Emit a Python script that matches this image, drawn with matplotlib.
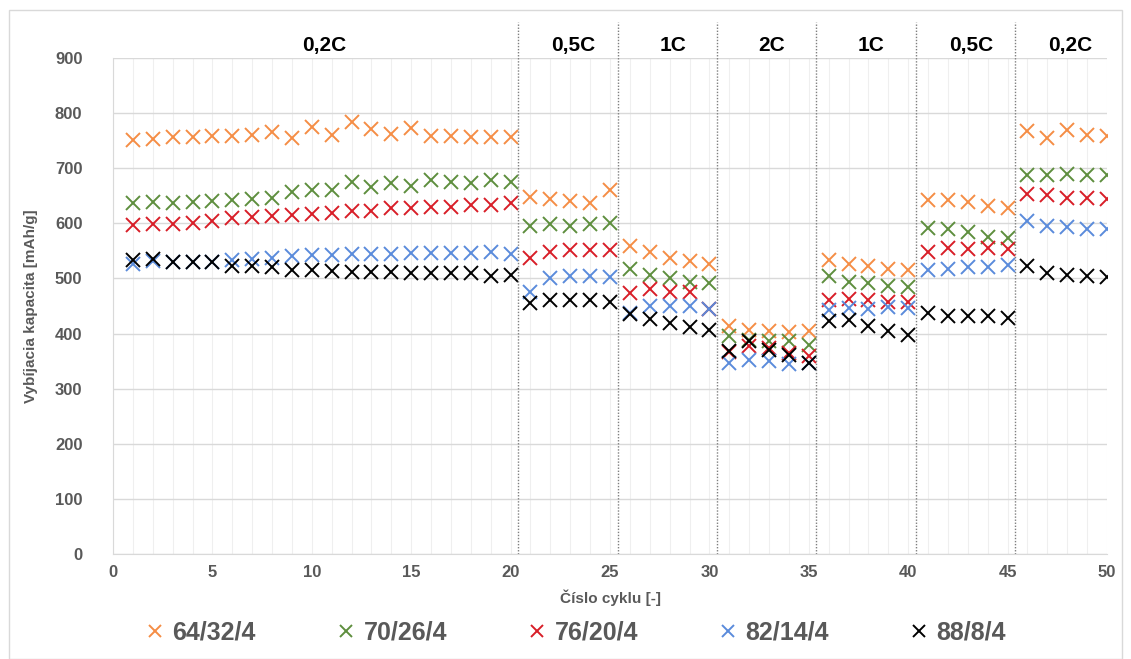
"""Discharge capacity of the five electrode compositions over the C-rate test."""

import numpy
from matplotlib import pyplot
from matplotlib.patches import Rectangle

cycles = numpy.arange(1, 51)

cap_64_32_4 = [752, 753, 757, 757, 758, 758, 760, 766, 755, 774,
               760, 783, 772, 762, 773, 759, 759, 757, 756, 757,
               647, 645, 641, 636, 660,
               558, 548, 538, 531, 527,
               413, 407, 405, 402, 404,
               533, 527, 522, 517, 516,
               643, 642, 639, 631, 628,
               768, 755, 769, 760, 759]
cap_70_26_4 = [637, 638, 636, 638, 640, 643, 645, 646, 656, 661,
               660, 675, 666, 673, 668, 678, 675, 673, 679, 675,
               595, 598, 596, 599, 600,
               518, 506, 500, 494, 491,
               396, 389, 387, 386, 380,
               504, 494, 491, 486, 484,
               592, 589, 584, 575, 574,
               687, 687, 690, 687, 687]
cap_76_20_4 = [597, 598, 599, 601, 605, 609, 612, 613, 616, 617,
               619, 622, 623, 627, 628, 630, 630, 633, 634, 636,
               537, 548, 551, 552, 551,
               473, 480, 476, 475, 444,
               366, 377, 374, 365, 360,
               461, 462, 460, 458, 458,
               548, 556, 554, 556, 554,
               654, 652, 646, 646, 645]
cap_82_14_4 = [527, 532, 529, 529, 530, 533, 535, 538, 541, 542,
               542, 544, 544, 544, 546, 546, 546, 546, 548, 545,
               476, 500, 504, 504, 503,
               437, 450, 450, 450, 444,
               346, 352, 351, 345, 346,
               443, 446, 444, 449, 447,
               516, 518, 520, 521, 524,
               604, 595, 593, 590, 590]
cap_88_8_4 = [534, 536, 530, 529, 530, 522, 522, 520, 516, 515,
              514, 512, 511, 511, 510, 509, 509, 509, 505, 506,
              455, 461, 461, 460, 457,
              436, 426, 419, 411, 407,
              368, 386, 371, 361, 346,
              422, 425, 413, 405, 398,
              437, 432, 431, 431, 428,
              522, 510, 506, 504, 503]

# C-rate steps: label and the cycles run at that rate.
rate_labels = ['0,2C', '0,5C', '1C', '2C', '1C', '0,5C', '0,2C']
rate_cycles = [(1, 20), (21, 25), (26, 30), (31, 35), (36, 40), (41, 45),
               (46, 50)]

series = {
    '64/32/4': (cap_64_32_4, '#F58D45'),
    '70/26/4': (cap_70_26_4, '#5E8E3E'),
    '76/20/4': (cap_76_20_4, '#D81E28'),
    '82/14/4': (cap_82_14_4, '#5A8BDB'),
    '88/8/4': (cap_88_8_4, '#000000'),
}

pyplot.rc('font', family=['Liberation Sans', 'DejaVu Sans'], weight='bold')
pyplot.rc('axes', labelweight='bold')
gray = '#595959'

fig = pyplot.figure(figsize=(11.31, 6.59), dpi=100)
fig.patches.append(Rectangle((9 / 1131, 0.0), 1113 / 1131, 1 - 10 / 659,
                             transform=fig.transFigure, fill=False,
                             edgecolor='#d9d9d9', linewidth=1.0))
ax = fig.add_axes([113 / 1131, 1 - 554 / 659, 994 / 1131, 496 / 659])

for label, (values, color) in series.items():
    ax.plot(cycles, values, linestyle='none', marker='x', markersize=9.5,
            markeredgewidth=1.4, color=color, label=label)

ax.set_xlim(0, 50)
ax.set_ylim(0, 900)
ax.set_xticks(numpy.arange(0, 51, 5))
ax.set_xticks(numpy.arange(0, 51, 1), minor=True)
ax.set_yticks(numpy.arange(0, 901, 100))
ax.grid(which='major', axis='y', color='#d9d9d9', linewidth=1.0)
ax.grid(which='both', axis='x', color='#efefef', linewidth=0.8)
ax.set_axisbelow(True)
ax.tick_params(which='both', length=0, colors=gray, labelsize=12)
ax.tick_params(axis='x', pad=8)
ax.tick_params(axis='y', pad=22)
for spine in ax.spines.values():
    spine.set_color('#d9d9d9')
ax.spines['top'].set_visible(False)
ax.spines['right'].set_visible(False)

# Dotted separators between C-rate steps and the step labels above them.
for (first, last), label in zip(rate_cycles, rate_labels):
    if first > 1:
        ax.axvline(first - 0.62, ymin=0.0, ymax=1.073, clip_on=False,
                   color='#7f7f7f', linestyle=(0, (1, 1.2)), linewidth=1.0)
    ax.text((first + last) / 2 + 0.15, 1.026, label,
            transform=ax.get_xaxis_transform(), ha='center', va='center',
            fontsize=15, color='black')

ax.set_xlabel('Číslo cyklu [-]', fontsize=11, color=gray, labelpad=7)
ax.set_ylabel('Vybíjacia kapacita [mAh/g]', fontsize=11, color=gray,
              labelpad=12)

fig.legend(loc='center', bbox_to_anchor=(0.51, 1 - 633 / 659), ncol=5,
           frameon=False, fontsize=18, labelcolor=gray, handlelength=0.6,
           handletextpad=0.4, columnspacing=3.3, markerscale=0.85)

fig.savefig('out.png', dpi=100)
